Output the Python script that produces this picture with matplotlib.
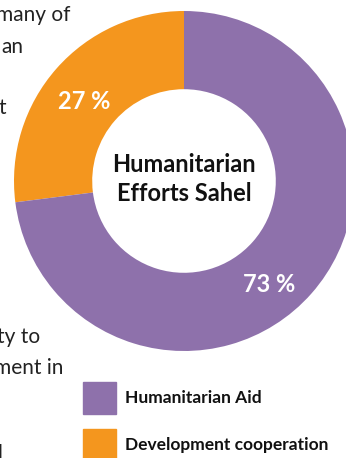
import matplotlib.pyplot as plt

# data
labels = ["Development cooperation", "Humanitarian Aid"]
shares = [27, 73]
colors = ["#F4961E", "#8E71AB"]
title_lines = ["Humanitarian", "Efforts Sahel"]

# cut-off paragraph text on the left edge: (text, right edge px, center y px)
side_text = [
    ("many of", 70, 15),
    ("an", 23, 47),
    ("t", 6, 108),
    ("ty to", 40, 337),
    ("ment in", 63, 368),
    ("l", 3, 454),
]

W, H = 346, 458
fig = plt.figure(figsize=(W / 100, H / 100), dpi=100)
plt.rcParams['font.family'] = ['Lato', 'DejaVu Sans']

# donut axes: center (184, 181) px, radius 170 px
cx, cy, r = 184, 181, 170
ax = fig.add_axes([(cx - r) / W, 1 - (cy + r) / H, 2 * r / W, 2 * r / H])

wedges, _ = ax.pie(shares, colors=colors, startangle=90, counterclock=True,
                   radius=1, wedgeprops=dict(width=0.46, edgecolor='none'))
ax.set_xlim(-1, 1)
ax.set_ylim(-1, 1)
ax.set_aspect('equal')
ax.axis('off')
for w in wedges:
    w.set_clip_on(False)

label_pos = [(-0.59, 0.465), (0.50, -0.61)]
for val, (x, y) in zip(shares, label_pos):
    ax.text(x, y, f"{val} %", ha='center', va='center', color='white',
            fontsize=17, fontweight='bold')

ax.text(0, 0.095, title_lines[0], ha='center', va='center', fontsize=17,
        fontweight='bold', color='#111111')
ax.text(0, -0.075, title_lines[1], ha='center', va='center', fontsize=17,
        fontweight='bold', color='#111111')

for txt, xr, yc in side_text:
    fig.text(xr / W, 1 - yc / H, txt, ha='right', va='center', fontsize=15,
             color='#222222')

# legend
leg_y = [398, 445]
for name, col, yc in zip(labels[::-1], colors[::-1], leg_y):
    fig.patches.append(plt.Rectangle((83 / W, 1 - (yc + 16) / H), 33 / W, 32 / H,
                                     transform=fig.transFigure, color=col))
    fig.text(125 / W, 1 - yc / H, name, ha='left', va='center', fontsize=12.5,
             fontweight='bold', color='#111111')

fig.savefig("out.png", dpi=100)
